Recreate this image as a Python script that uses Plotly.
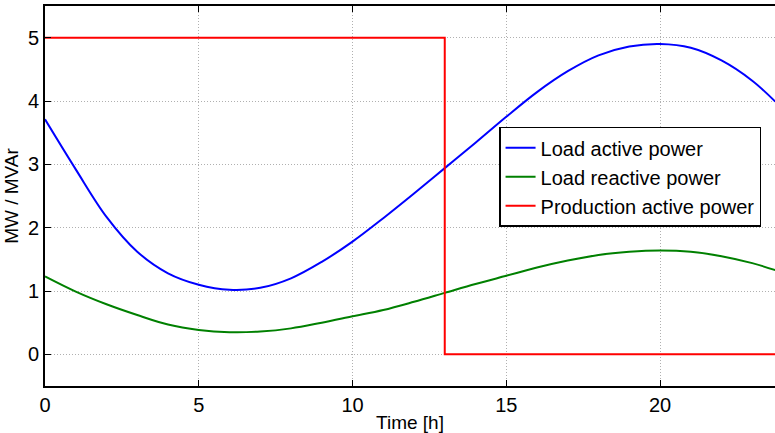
import plotly.graph_objects as go

hours = [0, 1, 2, 3, 4, 5, 6, 7, 8, 9, 10, 11, 12, 13, 14, 15, 16, 17, 18, 19, 20, 21, 22, 23, 23.75]
load_active = [3.71, 2.92, 2.17, 1.62, 1.28, 1.10, 1.02, 1.05, 1.20, 1.46, 1.78, 2.15, 2.54, 2.94, 3.34, 3.75, 4.14, 4.47, 4.72, 4.86, 4.90, 4.84, 4.64, 4.32, 3.99]
load_reactive = [1.23, 0.99, 0.79, 0.62, 0.47, 0.385, 0.35, 0.36, 0.41, 0.50, 0.60, 0.70, 0.83, 0.97, 1.11, 1.24, 1.37, 1.48, 1.57, 1.62, 1.64, 1.62, 1.55, 1.44, 1.33]
prod_hours = [0, 13, 13, 24]
prod_active = [5, 5, 0, 0]

font = "Liberation Sans, Arial, sans-serif"

fig = go.Figure()
fig.add_trace(go.Scatter(x=hours, y=load_active, mode="lines", name="Load active power",
                         line=dict(color="#0000ff", width=2, shape="spline")))
fig.add_trace(go.Scatter(x=hours, y=load_reactive, mode="lines", name="Load reactive power",
                         line=dict(color="#008000", width=2, shape="spline")))
fig.add_trace(go.Scatter(x=prod_hours, y=prod_active, mode="lines", name="Production active power",
                         line=dict(color="#ff0000", width=2)))

fig.update_layout(
    width=775, height=433,
    margin=dict(l=45, r=0, t=6, b=47),
    paper_bgcolor="white", plot_bgcolor="white",
    font=dict(family=font, size=20, color="black"),
    showlegend=True,
    legend=dict(x=0.622, y=0.682, xanchor="left", yanchor="top",
                bgcolor="white", bordercolor="black", borderwidth=1.5,
                font=dict(size=20), itemwidth=30, tracegroupgap=0),
)
fig.update_xaxes(
    range=[0, 23.74], tickvals=[0, 5, 10, 15, 20],
    showline=True, linecolor="black", linewidth=2, mirror="ticks",
    ticks="inside", ticklen=6, tickcolor="black", tickfont=dict(size=20),
    showgrid=True, gridcolor="#b0b0b0", griddash="1px,2px", gridwidth=1,
    zeroline=False,
    title=dict(text="Time [h]", standoff=2, font=dict(size=19)),
)
fig.update_yaxes(
    range=[-0.5, 5.5], tickvals=[0, 1, 2, 3, 4, 5],
    showline=True, linecolor="black", linewidth=2, mirror=False,
    ticks="inside", ticklen=6, tickcolor="black", tickfont=dict(size=20),
    showgrid=True, gridcolor="#b0b0b0", griddash="1px,2px", gridwidth=1,
    zeroline=False,
    title=dict(text="MW / MVAr", standoff=4, font=dict(size=19)),
)

fig.write_html("out.html")
